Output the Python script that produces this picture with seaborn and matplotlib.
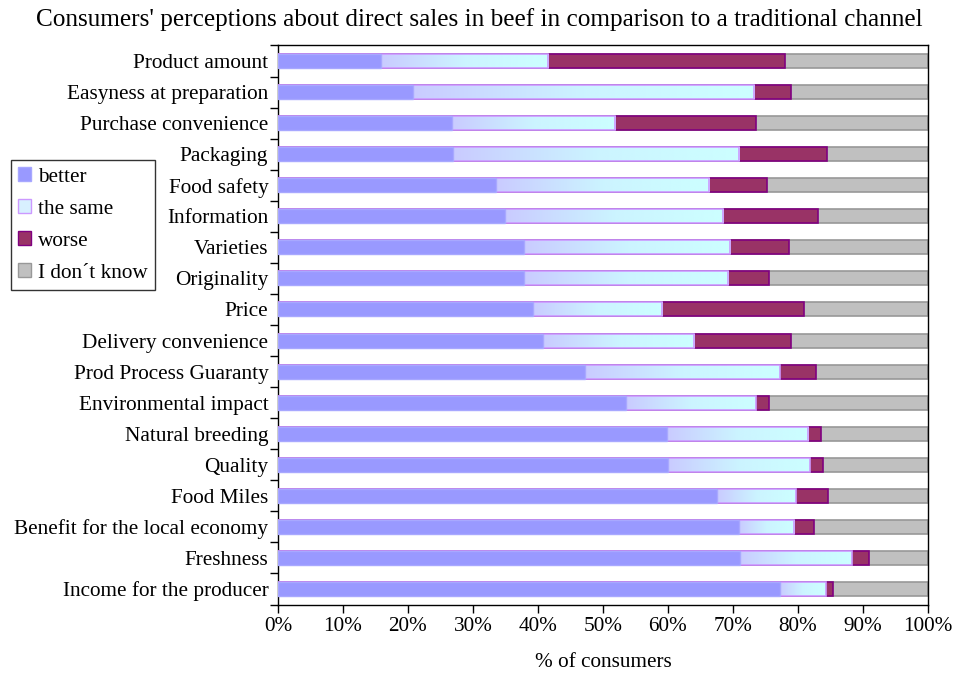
import numpy as np
import pandas as pd
import matplotlib
matplotlib.use("Agg")
import matplotlib.pyplot as plt
from matplotlib.patches import Patch
from matplotlib.colors import LinearSegmentedColormap
from matplotlib.ticker import FixedLocator, PercentFormatter
import seaborn as sns

categories = ["Product amount", "Easyness at preparation", "Purchase convenience",
              "Packaging", "Food safety", "Information", "Varieties", "Originality",
              "Price", "Delivery convenience", "Prod Process Guaranty",
              "Environmental impact", "Natural breeding", "Quality", "Food Miles",
              "Benefit for the local economy", "Freshness", "Income for the producer"]
better = [15.8, 20.7, 26.7, 26.9, 33.5, 34.9, 37.8, 37.8, 39.2, 40.7, 47.3, 53.6,
          59.8, 60.0, 67.6, 70.9, 71.1, 77.3]
same = [25.8, 52.5, 25.1, 44.1, 32.8, 33.6, 31.7, 31.5, 19.9, 23.3, 29.9, 19.9,
        21.7, 21.8, 12.1, 8.5, 17.2, 7.0]
worse = [36.4, 5.8, 21.7, 13.4, 9.0, 14.6, 9.1, 6.2, 21.8, 15.0, 5.6, 2.0,
         2.1, 2.0, 4.9, 3.1, 2.6, 1.1]
series_names = ["better", "the same", "worse", "I don\u00b4t know"]

b = np.array(better)
c1 = b
c2 = c1 + np.array(same)
c3 = c2 + np.array(worse)
dont_know = 100 - c3
c4 = c3 + dont_know

df = pd.DataFrame({"cat": categories, "c1": c1, "c2": c2, "c3": c3, "c4": c4})

sns.set_theme(style="white")
plt.rcParams["font.family"] = ["Liberation Serif", "DejaVu Serif"]
plt.rcParams["text.color"] = "black"
plt.rcParams["axes.labelcolor"] = "black"
plt.rcParams["xtick.color"] = "black"
plt.rcParams["ytick.color"] = "black"

FS = 15.3

fig = plt.figure(figsize=(9.54, 6.75), dpi=100)
ax = fig.add_axes([0.2914, 0.1044, 0.9727 - 0.2914, 0.9326 - 0.1044])

W = 0.45
sns.barplot(data=df, y="cat", x="c4", order=categories, orient="h", ax=ax,
            color="#C0C0C0", saturation=1, width=W, edgecolor="#989898",
            linewidth=1.2, zorder=2)
sns.barplot(data=df, y="cat", x="c3", order=categories, orient="h", ax=ax,
            color="#993366", saturation=1, width=W, edgecolor="#800080",
            linewidth=1.2, zorder=3)

cmap = LinearSegmentedColormap.from_list(
    "same", [(0.0, "#C9CBFF"), (0.5, "#CCF4FF"), (1.0, "#CCFFFF")])
grad = np.linspace(0, 1, 256).reshape(1, -1)
for i in range(len(categories)):
    ax.imshow(grad, extent=(c1[i], c2[i], i + W / 2, i - W / 2), aspect="auto",
              cmap=cmap, zorder=4, interpolation="bicubic")

sns.barplot(data=df, y="cat", x="c2", order=categories, orient="h", ax=ax,
            color="#D8F0FF", saturation=1, width=W, edgecolor="#CC99FF",
            linewidth=1.2, zorder=5, fill=False)
sns.barplot(data=df, y="cat", x="c1", order=categories, orient="h", ax=ax,
            color="#9999FF", saturation=1, width=W, edgecolor="#A8A8FF",
            linewidth=1.0, zorder=6)

ax.set_xlim(0, 100)
ax.set_ylim(len(categories) - 0.5, -0.5)
ax.set_ylabel("")
ax.set_xlabel("% of consumers", fontsize=FS, labelpad=12)
ax.xaxis.set_major_locator(FixedLocator(np.arange(0, 101, 10)))
ax.xaxis.set_major_formatter(PercentFormatter(decimals=0))
ax.tick_params(axis="x", which="major", length=6, width=1, direction="out",
               labelsize=FS, bottom=True, color="black", pad=3)
ax.tick_params(axis="y", which="major", length=0, labelsize=FS, pad=7)
ax.yaxis.set_minor_locator(FixedLocator(np.arange(-0.5, len(categories), 1.0)))
ax.tick_params(axis="y", which="minor", length=6, width=1, direction="out",
               left=True, color="black")
for s in ax.spines.values():
    s.set_color("black")
    s.set_linewidth(1.0)
    s.set_visible(True)

fig.text(0.502, 1 - 20 / 675,
         "Consumers' perceptions about direct sales in beef in comparison to a traditional channel",
         ha="center", va="center", fontsize=18.2)

handles = [Patch(facecolor="#9999FF", edgecolor="#A8A8FF"),
           Patch(facecolor="#D8F0FF", edgecolor="#CC99FF"),
           Patch(facecolor="#993366", edgecolor="#800080"),
           Patch(facecolor="#C0C0C0", edgecolor="#989898")]
leg = fig.legend(handles, series_names, loc="upper left",
                 bbox_to_anchor=(11 / 954, 1 - 160 / 675), fontsize=FS,
                 handlelength=0.6, handleheight=0.6, handletextpad=0.3,
                 labelspacing=0.6, borderpad=0.35, borderaxespad=0,
                 fancybox=False, frameon=True)
leg.get_frame().set_edgecolor("black")
leg.get_frame().set_linewidth(1.0)

fig.savefig("out.png", dpi=100)
